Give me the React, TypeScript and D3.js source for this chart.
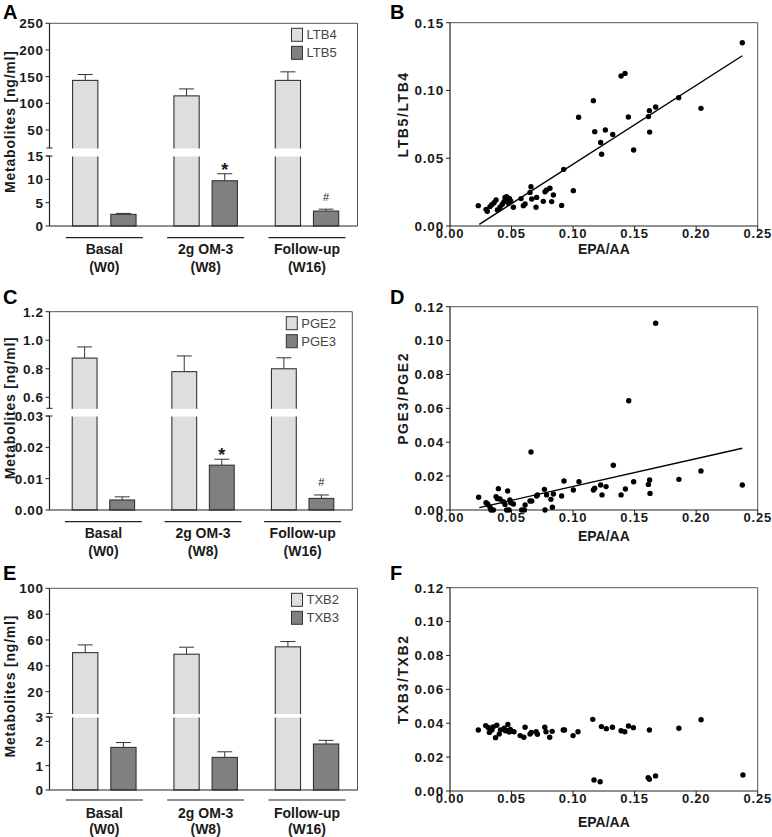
import React from "react";
import * as d3 from "d3";

// ---------- DATA ----------
const groupNames = ["Basal", "2g OM-3", "Follow-up"];
const groupWeeks = ["(W0)", "(W8)", "(W16)"];

const ltb4Mean = [143, 114, 143];
const ltb4Sem = [11, 13, 16];
const ltb5Mean = [2.5, 9.7, 3.2];
const ltb5Sem = [0.2, 1.5, 0.4];
const ltbMarks = ["", "*", "#"];
const ltbUpperTicks = [50, 100, 150, 200, 250];
const ltbLowerTicks = [0, 5, 10, 15];

const pge2Mean = [0.875, 0.78, 0.8];
const pge2Sem = [0.078, 0.11, 0.077];
const pge3Mean = [0.0032, 0.0143, 0.0037];
const pge3Sem = [0.001, 0.0019, 0.0011];
const pgeMarks = ["", "*", "#"];
const pgeUpperTicks = [0.6, 0.8, 1.0, 1.2];
const pgeLowerTicks = [0, 0.01, 0.02, 0.03];

const txb2Mean = [50.2, 49, 54.7];
const txb2Sem = [6, 5.4, 4.1];
const txb3Mean = [1.75, 1.34, 1.89];
const txb3Sem = [0.2, 0.23, 0.15];
const txbMarks = ["", "", ""];
const txbUpperTicks = [20, 40, 60, 80, 100];
const txbLowerTicks = [0, 1, 2, 3];

const epaTicks = [0, 0.05, 0.1, 0.15, 0.2, 0.25];

const epaB = [0.023, 0.0293, 0.0303, 0.0325, 0.0339, 0.0358, 0.0374, 0.0385, 0.0406, 0.0425, 0.0439, 0.0447, 0.046, 0.0466, 0.0474, 0.0482, 0.0493, 0.0515, 0.0577, 0.0596, 0.061, 0.065, 0.0658, 0.0664, 0.0704, 0.0699, 0.0758, 0.0772, 0.0785, 0.0812, 0.0826, 0.084, 0.0907, 0.0924, 0.1002, 0.1045, 0.1165, 0.1176, 0.1224, 0.1232, 0.1262, 0.1322, 0.139, 0.1422, 0.1449, 0.1492, 0.1612, 0.162, 0.1622, 0.1671, 0.1858, 0.2039, 0.2375];
const ltbRatio = [0.015, 0.0123, 0.0108, 0.0143, 0.0157, 0.0172, 0.0192, 0.0118, 0.0138, 0.016, 0.018, 0.0211, 0.0216, 0.0192, 0.0167, 0.0204, 0.0184, 0.0138, 0.0202, 0.015, 0.0162, 0.0248, 0.029, 0.0199, 0.0211, 0.0138, 0.0182, 0.0253, 0.0266, 0.0278, 0.018, 0.0229, 0.0152, 0.0418, 0.0261, 0.0802, 0.0925, 0.0696, 0.0617, 0.0529, 0.0708, 0.0676, 0.1107, 0.1126, 0.0804, 0.0561, 0.0807, 0.0851, 0.0693, 0.0878, 0.0947, 0.0868, 0.1352];
const fitB = { slope: 0.582, intercept: -0.0126, x0: 0.0238, x1: 0.2375 };
const ltbRatioTicks = [0, 0.05, 0.1, 0.15];

const epaD = [0.0233, 0.0293, 0.0306, 0.0325, 0.0333, 0.0352, 0.0374, 0.0385, 0.0393, 0.0406, 0.0433, 0.0447, 0.046, 0.0469, 0.0479, 0.0487, 0.0493, 0.0515, 0.0582, 0.0604, 0.061, 0.065, 0.0658, 0.0664, 0.0704, 0.071, 0.0767, 0.0772, 0.0785, 0.082, 0.0832, 0.084, 0.0907, 0.0926, 0.1002, 0.1048, 0.1165, 0.1176, 0.1224, 0.1235, 0.1268, 0.1327, 0.139, 0.1425, 0.1452, 0.1492, 0.1612, 0.1622, 0.1625, 0.1671, 0.186, 0.2039, 0.2375];
const pgeRatio = [0.0075, 0.0043, 0.0035, 0.0016, 0, 0, 0.0079, 0.0067, 0.0126, 0.0065, 0.0049, 0.0033, 0, 0.0112, 0, 0.0059, 0.0043, 0.0035, 0, 0, 0.003, 0.0053, 0.0342, 0.0053, 0.0083, 0.0089, 0.0122, 0, 0.0089, 0.0063, 0.0016, 0.0094, 0.0083, 0.0171, 0.0118, 0.0167, 0.0118, 0.0128, 0.0148, 0.0089, 0.0138, 0.0264, 0.0089, 0.0124, 0.0645, 0.0167, 0.0151, 0.0177, 0.0098, 0.1102, 0.0181, 0.023, 0.0148];
const fitD = { slope: 0.164, intercept: -0.0025, x0: 0.0238, x1: 0.2375 };
const ratioTicks12 = [0, 0.02, 0.04, 0.06, 0.08, 0.1, 0.12];

const epaF = [0.023, 0.029, 0.031, 0.032, 0.034, 0.035, 0.037, 0.038, 0.04, 0.041, 0.044, 0.045, 0.046, 0.047, 0.048, 0.049, 0.05, 0.052, 0.057, 0.06, 0.061, 0.065, 0.066, 0.07, 0.071, 0.077, 0.078, 0.081, 0.083, 0.092, 0.093, 0.1, 0.104, 0.116, 0.117, 0.122, 0.123, 0.127, 0.132, 0.139, 0.142, 0.145, 0.149, 0.161, 0.162, 0.162, 0.167, 0.186, 0.204, 0.238];
const txbRatio = [0.036, 0.0386, 0.0375, 0.0346, 0.036, 0.0378, 0.0315, 0.0388, 0.0336, 0.036, 0.037, 0.0356, 0.0358, 0.0393, 0.0348, 0.0364, 0.0352, 0.035, 0.0327, 0.0317, 0.0376, 0.0336, 0.0346, 0.035, 0.0335, 0.0376, 0.035, 0.0317, 0.0352, 0.036, 0.036, 0.0327, 0.035, 0.0423, 0.0065, 0.0055, 0.038, 0.0368, 0.0376, 0.0356, 0.035, 0.0384, 0.0374, 0.0079, 0.036, 0.0069, 0.0089, 0.037, 0.0421, 0.0094];

// ---------- STYLE ----------
const FONT = "'Liberation Sans', Arial, Helvetica, sans-serif";
const LIGHT = "#dedede";
const DARK = "#808080";
const OUTLINE = "#333";
const FRAME = "#555";
const TEXT = "#1a1a1a";

type BarCfg = {
  letter: string; letterY: number;
  left: number; right: number; top: number; gapTop: number; lowerTop: number; bottom: number;
  upperDomain: [number, number]; lowerDomain: [number, number];
  upperTicks: number[]; lowerTicks: number[]; upperFmt: string; lowerFmt: string;
  s1: number[]; s1Sem: number[]; s2: number[]; s2Sem: number[]; marks: string[];
  names: [string, string];
  labelOffsets: [number, number, number];
};

function BarPanel({ c }: { c: BarCfg }) {
  const w = c.right - c.left;
  const gx = d3.scalePoint<string>().domain(groupNames).range([c.left + 0.178 * w, c.left + 0.836 * w]);
  const yU = d3.scaleLinear().domain(c.upperDomain).range([c.gapTop, c.top]);
  const yL = d3.scaleLinear().domain(c.lowerDomain).range([c.bottom, c.lowerTop]);
  const bw = 0.082 * w;
  const off = 0.062 * w;
  const cap = 7.5;
  const fU = d3.format(c.upperFmt);
  const fL = d3.format(c.lowerFmt);
  const legX = c.right - 66;
  const legY = c.top + 5;
  return (
    <g>
      <text x={3} y={c.letterY} fontSize={20} fontWeight="bold" fill="#000" fontFamily={FONT}>{c.letter}</text>
      {groupNames.map((g, i) => {
        const cx = (gx(g) as number) - off;
        const yv = yU(c.s1[i]);
        const ye = yU(c.s1[i] + c.s1Sem[i]);
        return (
          <g key={"a" + g}>
            <line x1={cx} x2={cx} y1={yv} y2={ye} stroke={OUTLINE} strokeWidth={1} />
            <line x1={cx - cap} x2={cx + cap} y1={ye} y2={ye} stroke={OUTLINE} strokeWidth={1} />
            <rect x={cx - bw / 2} y={yv} width={bw} height={c.bottom - yv} fill={LIGHT} stroke={OUTLINE} strokeWidth={1.1} />
          </g>
        );
      })}
      {groupNames.map((g, i) => {
        const cx = (gx(g) as number) + off;
        const yv = yL(c.s2[i]);
        const ye = yL(c.s2[i] + c.s2Sem[i]);
        return (
          <g key={"b" + g}>
            <line x1={cx} x2={cx} y1={yv} y2={ye} stroke={OUTLINE} strokeWidth={1} />
            <line x1={cx - cap} x2={cx + cap} y1={ye} y2={ye} stroke={OUTLINE} strokeWidth={1} />
            <rect x={cx - bw / 2} y={yv} width={bw} height={c.bottom - yv} fill={DARK} stroke={OUTLINE} strokeWidth={1.1} />
            {c.marks[i] === "*" && (
              <text x={cx} y={ye + 2} textAnchor="middle" fontSize={18} fontWeight="bold" fill={TEXT} fontFamily={FONT}>*</text>
            )}
            {c.marks[i] === "#" && (
              <text x={cx} y={ye - 8.5} textAnchor="middle" fontSize={11} fill={TEXT} fontFamily={FONT}>#</text>
            )}
          </g>
        );
      })}
      <rect x={c.left + 1} y={c.gapTop + 0.5} width={w - 2} height={c.lowerTop - c.gapTop} fill="#fff" />
      <line x1={c.left} x2={c.right} y1={c.top} y2={c.top} stroke={FRAME} strokeWidth={1} />
      <line x1={c.right} x2={c.right} y1={c.top} y2={c.bottom} stroke={FRAME} strokeWidth={1} />
      <line x1={c.left} x2={c.right} y1={c.bottom} y2={c.bottom} stroke="#222" strokeWidth={1.2} />
      <line x1={c.left} x2={c.left} y1={c.top} y2={c.gapTop} stroke="#222" strokeWidth={1.2} />
      <line x1={c.left} x2={c.left} y1={c.lowerTop} y2={c.bottom} stroke="#222" strokeWidth={1.2} />
      <line x1={c.left - 3} x2={c.left + 3} y1={c.gapTop} y2={c.gapTop} stroke="#222" strokeWidth={1} />
      <line x1={c.left - 3} x2={c.left + 3} y1={c.lowerTop} y2={c.lowerTop} stroke="#222" strokeWidth={1} />
      {c.upperTicks.map((t) => (
        <g key={"ut" + t}>
          <line x1={c.left - 4} x2={c.left} y1={yU(t)} y2={yU(t)} stroke="#222" />
          <text x={c.left - 6} y={yU(t)} dy="0.36em" textAnchor="end" fontSize={13.5} fontWeight="bold" letterSpacing={0.6} fill={TEXT} fontFamily={FONT}>{fU(t)}</text>
        </g>
      ))}
      {c.lowerTicks.map((t) => (
        <g key={"lt" + t}>
          <line x1={c.left - 4} x2={c.left} y1={yL(t)} y2={yL(t)} stroke="#222" />
          <text x={c.left - 6} y={yL(t)} dy="0.36em" textAnchor="end" fontSize={13.5} fontWeight="bold" letterSpacing={0.6} fill={TEXT} fontFamily={FONT}>{fL(t)}</text>
        </g>
      ))}
      <text transform={`translate(14.5,${(c.top + c.bottom) / 2 - 3}) rotate(-90)`} textAnchor="middle" fontSize={14} fontWeight="bold" letterSpacing={0.8} fill={TEXT} fontFamily={FONT}>Metabolites [ng/ml]</text>
      {groupNames.map((g, i) => {
        const cx = gx(g) as number;
        return (
          <g key={"gl" + g}>
            <line x1={cx - 38.5} x2={cx + 38.5} y1={c.bottom + c.labelOffsets[0]} y2={c.bottom + c.labelOffsets[0]} stroke="#222" strokeWidth={1.2} />
            <text x={cx} y={c.bottom + c.labelOffsets[1]} textAnchor="middle" fontSize={14} fontWeight="bold" fill={TEXT} fontFamily={FONT}>{g}</text>
            <text x={cx} y={c.bottom + c.labelOffsets[2]} textAnchor="middle" fontSize={14} fontWeight="bold" fill={TEXT} fontFamily={FONT}>{groupWeeks[i]}</text>
          </g>
        );
      })}
      {c.names.map((n, i) => (
        <g key={"lg" + n}>
          <rect x={legX} y={legY + i * 18} width={11} height={13} fill={i === 0 ? LIGHT : DARK} stroke={OUTLINE} strokeWidth={1} />
          <text x={legX + 15} y={legY + i * 18 + 11} fontSize={13} fill="#444" fontFamily={FONT}>{n}</text>
        </g>
      ))}
    </g>
  );
}

type ScatCfg = {
  letter: string; letterY: number; left: number; right: number; top: number; bottom: number;
  yDomain: [number, number]; yTicks: number[]; ylabel: string;
  xs: number[]; ys: number[]; fit: null | { slope: number; intercept: number; x0: number; x1: number };
  xLabelOff: number;
};

function ScatterPanel({ c }: { c: ScatCfg }) {
  const x = d3.scaleLinear().domain([0, 0.25]).range([c.left, c.right]);
  const y = d3.scaleLinear().domain(c.yDomain).range([c.bottom, c.top]);
  const f2 = d3.format(".2f");
  return (
    <g>
      <text x={390} y={c.letterY} fontSize={20} fontWeight="bold" fill="#000" fontFamily={FONT}>{c.letter}</text>
      <line x1={c.left} x2={c.right} y1={c.top} y2={c.top} stroke={FRAME} strokeWidth={1} />
      <line x1={c.right} x2={c.right} y1={c.top} y2={c.bottom} stroke={FRAME} strokeWidth={1} />
      <line x1={c.left} x2={c.left} y1={c.top} y2={c.bottom} stroke="#222" strokeWidth={1.2} />
      <line x1={c.left} x2={c.right} y1={c.bottom} y2={c.bottom} stroke="#222" strokeWidth={1.2} />
      {c.yTicks.map((t) => (
        <g key={"y" + t}>
          <line x1={c.left - 4} x2={c.left} y1={y(t)} y2={y(t)} stroke="#222" />
          <text x={c.left - 6} y={y(t)} dy="0.36em" textAnchor="end" fontSize={13.5} fontWeight="bold" letterSpacing={0.8} fill={TEXT} fontFamily={FONT}>{f2(t)}</text>
        </g>
      ))}
      {epaTicks.map((t) => (
        <g key={"x" + t}>
          <line x1={x(t)} x2={x(t)} y1={c.bottom} y2={c.bottom + 4} stroke="#222" />
          <text x={x(t)} y={c.bottom + 12} textAnchor="middle" fontSize={13} fontWeight="bold" letterSpacing={0.8} fill={TEXT} fontFamily={FONT}>{f2(t)}</text>
        </g>
      ))}
      <text x={(c.left + c.right) / 2} y={c.bottom + c.xLabelOff} textAnchor="middle" fontSize={14} fontWeight="bold" fill={TEXT} fontFamily={FONT}>EPA/AA</text>
      <text transform={`translate(407.5,${(c.top + c.bottom) / 2 - 10}) rotate(-90)`} textAnchor="middle" fontSize={14} fontWeight="bold" letterSpacing={1.6} fill={TEXT} fontFamily={FONT}>{c.ylabel}</text>
      {c.xs.map((v, i) => (
        <circle key={i} cx={x(v)} cy={y(c.ys[i])} r={2.7} fill="#000" />
      ))}
      {c.fit && (
        <line x1={x(c.fit.x0)} y1={y(c.fit.slope * c.fit.x0 + c.fit.intercept)} x2={x(c.fit.x1)} y2={y(c.fit.slope * c.fit.x1 + c.fit.intercept)} stroke="#000" strokeWidth={1.4} />
      )}
    </g>
  );
}

const panelA: BarCfg = {
  letter: "A", letterY: 19, left: 49.5, right: 357.5, top: 23.3, gapTop: 148, lowerTop: 156, bottom: 226,
  upperDomain: [16.3, 250], lowerDomain: [0, 15], upperTicks: ltbUpperTicks, lowerTicks: ltbLowerTicks,
  upperFmt: "d", lowerFmt: "d", s1: ltb4Mean, s1Sem: ltb4Sem, s2: ltb5Mean, s2Sem: ltb5Sem, marks: ltbMarks,
  names: ["LTB4", "LTB5"], labelOffsets: [11.7, 28, 45.7],
};
const panelC: BarCfg = {
  letter: "C", letterY: 303.5, left: 49.5, right: 352.3, top: 311.7, gapTop: 408.3, lowerTop: 416, bottom: 510,
  upperDomain: [0.523, 1.2], lowerDomain: [0, 0.03], upperTicks: pgeUpperTicks, lowerTicks: pgeLowerTicks,
  upperFmt: ".1f", lowerFmt: ".2f", s1: pge2Mean, s1Sem: pge2Sem, s2: pge3Mean, s2Sem: pge3Sem, marks: pgeMarks,
  names: ["PGE2", "PGE3"], labelOffsets: [11.7, 28.3, 45.7],
};
const panelE: BarCfg = {
  letter: "E", letterY: 579.5, left: 49.5, right: 357.5, top: 588.3, gapTop: 713.5, lowerTop: 717, bottom: 790,
  upperDomain: [3.1, 100], lowerDomain: [0, 3], upperTicks: txbUpperTicks, lowerTicks: txbLowerTicks,
  upperFmt: "d", lowerFmt: "d", s1: txb2Mean, s1Sem: txb2Sem, s2: txb3Mean, s2Sem: txb3Sem, marks: txbMarks,
  names: ["TXB2", "TXB3"], labelOffsets: [10, 27.7, 44.3],
};

const panelB: ScatCfg = {
  letter: "B", letterY: 19, left: 450, right: 757.7, top: 22.7, bottom: 226, yDomain: [0, 0.15], yTicks: ltbRatioTicks,
  ylabel: "LTB5/LTB4", xs: epaB, ys: ltbRatio, fit: fitB, xLabelOff: 27.8,
};
const panelD: ScatCfg = {
  letter: "D", letterY: 303.5, left: 450, right: 757.7, top: 306.7, bottom: 510, yDomain: [0, 0.12], yTicks: ratioTicks12,
  ylabel: "PGE3/PGE2", xs: epaD, ys: pgeRatio, fit: fitD, xLabelOff: 30.5,
};
const panelF: ScatCfg = {
  letter: "F", letterY: 579.5, left: 450, right: 757.7, top: 587.7, bottom: 791, yDomain: [0, 0.12], yTicks: ratioTicks12,
  ylabel: "TXB3/TXB2", xs: epaF, ys: txbRatio, fit: null, xLabelOff: 36,
};

export default function App() {
  return (
    <svg width={772} height={837} viewBox="0 0 772 837" style={{ position: "absolute", left: 0, top: 0, background: "#fff" }}>
      <rect x={0} y={0} width={772} height={837} fill="#fff" />
      <BarPanel c={panelA} />
      <BarPanel c={panelC} />
      <BarPanel c={panelE} />
      <ScatterPanel c={panelB} />
      <ScatterPanel c={panelD} />
      <ScatterPanel c={panelF} />
    </svg>
  );
}
